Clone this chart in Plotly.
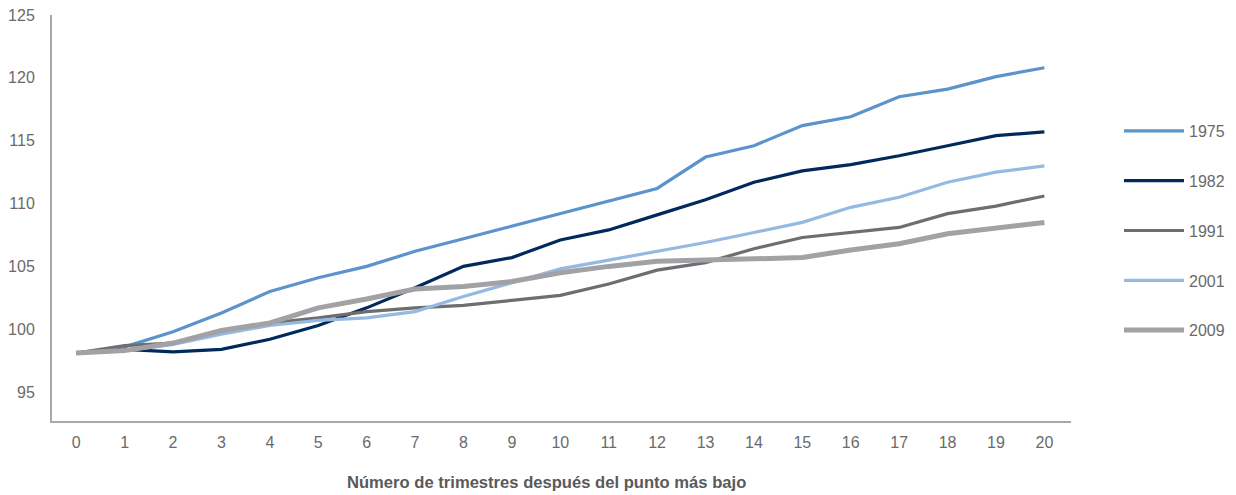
import plotly.graph_objects as go

quarters = list(range(21))
tick_labels = [str(q) for q in quarters]

years = ["1975", "1982", "1991", "2001", "2009"]

s1975 = [98.1, 98.6, 99.8, 101.3, 103.0, 104.1, 105.0, 106.2, 107.2, 108.2, 109.2,
         110.2, 111.2, 113.7, 114.6, 116.2, 116.9, 118.5, 119.1, 120.1, 120.8]
s1982 = [98.1, 98.4, 98.2, 98.4, 99.2, 100.3, 101.7, 103.3, 105.0, 105.7, 107.1,
         107.9, 109.1, 110.3, 111.7, 112.6, 113.1, 113.8, 114.6, 115.4, 115.7]
s1991 = [98.1, 98.7, 98.9, 99.7, 100.5, 100.9, 101.4, 101.7, 101.9, 102.3, 102.7,
         103.6, 104.7, 105.3, 106.4, 107.3, 107.7, 108.1, 109.2, 109.8, 110.6]
s2001 = [98.1, 98.3, 98.8, 99.6, 100.3, 100.7, 100.9, 101.4, 102.6, 103.7, 104.8,
         105.5, 106.2, 106.9, 107.7, 108.5, 109.7, 110.5, 111.7, 112.5, 113.0]
s2009 = [98.1, 98.3, 98.9, 99.9, 100.5, 101.7, 102.4, 103.2, 103.4, 103.8, 104.5,
         105.0, 105.4, 105.5, 105.6, 105.7, 106.3, 106.8, 107.6, 108.1, 108.5]

series = [s1975, s1982, s1991, s2001, s2009]
colors = ["#5B93CA", "#002A5C", "#6E6E70", "#96B9E2", "#A2A2A6"]
widths = [3.2, 3.2, 3.2, 3.2, 5]

fig = go.Figure()
for name, vals, col, w in zip(years, series, colors, widths):
    fig.add_trace(go.Scatter(
        x=quarters, y=vals, name=name, mode="lines",
        line=dict(color=col, width=w), legendgroup=name,
    ))

axis_color = "#A8A8A8"
font_color = "#6A6A6A"
plot_w = 1236 - 52 - 165
plot_h = 495 - 15 - 74

fig.update_layout(
    width=1236, height=495,
    margin=dict(l=52, r=165, t=15, b=74, autoexpand=False),
    paper_bgcolor="white", plot_bgcolor="white",
    font=dict(family="Liberation Sans, Arial, sans-serif", size=16, color=font_color),
    showlegend=True,
    legend=dict(
        x=(1119 - 52) / plot_w, y=(421 - 114) / plot_h, xanchor="left", yanchor="top",
        tracegroupgap=26, itemwidth=60,
        font=dict(size=16, color=font_color),
        bgcolor="rgba(0,0,0,0)",
    ),
    xaxis=dict(
        range=[-0.5, 20.55], tickmode="array", tickvals=quarters, ticktext=tick_labels,
        showline=True, linecolor=axis_color, linewidth=2, showgrid=False,
        zeroline=False, ticks="", ticklabelstandoff=6, automargin=False,
    ),
    yaxis=dict(
        range=[92.7, 125], tickmode="array", tickvals=[95, 100, 105, 110, 115, 120, 125],
        showline=True, linecolor=axis_color, linewidth=2, showgrid=False,
        zeroline=False, ticks="", ticklabelstandoff=12, automargin=False,
    ),
    annotations=[dict(
        text="<b>Número de trimestres después del punto más bajo</b>",
        xref="paper", yref="paper", x=(546 - 52) / plot_w, y=(421 - 483) / plot_h,
        xanchor="center", yanchor="middle", showarrow=False,
        font=dict(size=16.6, color="#5A5A5A", family="Liberation Sans, Arial, sans-serif"),
    )],
)

fig.write_html("out.html")
